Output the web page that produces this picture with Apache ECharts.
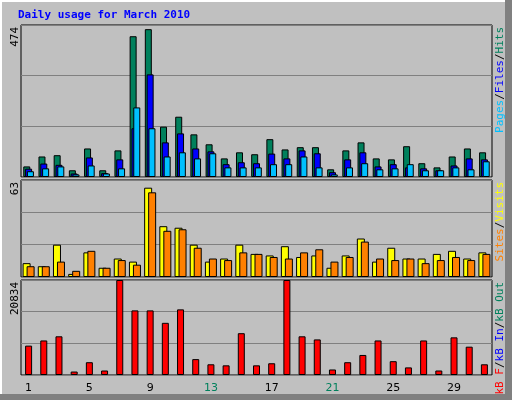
<!DOCTYPE html>
<html><head><meta charset="utf-8">
<script src="https://cdn.jsdelivr.net/npm/echarts@6/dist/echarts.min.js"></script>
<style>html,body{margin:0;padding:0;background:#C0C0C0}#c{width:512px;height:400px}</style>
</head><body><div id="c"></div>
<script>
var days = ['1','2','3','4','5','6','7','8','9','10','11','12','13','14','15','16','17','18','19','20','21','22','23','24','25','26','27','28','29','30','31'];
var weekend = ['6','7','13','14','20','21','27','28'];
var hits  = [33,64,68,21,89,21,83,439,461,157,188,133,102,58,77,71,118,86,93,93,24,83,108,58,55,96,43,30,64,89,77];
var files = [26,42,38,11,61,12,55,152,320,108,136,89,80,40,46,43,73,58,83,74,15,55,77,33,40,30,27,21,36,58,55];
var pages = [18,27,33,8,36,11,27,217,152,64,77,58,74,30,30,30,40,40,64,30,8,30,43,24,27,40,21,21,30,24,49];
var visits = [9,7,21,2,16,6,12,10,58,33,32,21,10,12,21,15,14,20,13,14,6,14,25,10,19,12,12,15,17,12,16];
var sites  = [7,7,10,4,17,6,11,8,55,30,31,19,12,11,16,15,13,12,16,18,10,13,23,12,11,12,9,11,13,11,15];
var kbytes = [6440,7576,8485,758,2803,985,20834,14167,14167,11440,14394,3485,2349,2121,9167,2121,2576,20834,8485,7803,1212,2803,4394,7576,3030,1667,7576,985,8258,6212,2349];
var maxTop = 474, maxMid = 63, maxBot = 20834;

var chart = echarts.init(document.getElementById('c'));
var grids = [
  {left:21, width:471, top:25, height:152},
  {left:21, width:471, top:180, height:97},
  {left:21, width:471, top:280, height:95}
];
function yAx(i, m){return {gridIndex:i, min:0, max:m, interval:m/3, axisLabel:{show:false}, axisTick:{show:false}, axisLine:{show:false}, splitLine:{lineStyle:{color:'#808080', width:1}}};}
function xAx(i, show){return {gridIndex:i, type:'category', data:days, axisTick:{show:false}, axisLine:{show:false},
  axisLabel:{show:show, margin:8, fontFamily:'DejaVu Sans', fontSize:11,
    formatter:function(v){return weekend.indexOf(v)>=0?'{w|'+v+'}':'{d|'+v+'}';},
    rich:{w:{color:'#00805C', fontFamily:'DejaVu Sans', fontSize:11}, d:{color:'#000', fontFamily:'DejaVu Sans', fontSize:11}}}};}
function bar(name, data, xi, color, w, gap){return {type:'bar', name:name, data:data, xAxisIndex:xi, yAxisIndex:xi, barWidth:w, barGap:gap, animation:false,
  itemStyle:{color:color, borderColor:'#000', borderWidth:1}};}
function vtext(x, y, rich, txt){return {type:'text', x:x, y:y, rotation:Math.PI/2, style:{text:txt, rich:rich, fontFamily:'DejaVu Sans Mono', fontSize:11, align:'right', verticalAlign:'middle'}};}
var mono = {fontFamily:'DejaVu Sans Mono', fontSize:11};
chart.setOption({
  backgroundColor:'#C0C0C0',
  grid: grids.map(function(g){return Object.assign({show:true, borderColor:'#000', borderWidth:1, backgroundColor:'#C0C0C0'}, g);}),
  xAxis:[xAx(0,false), xAx(1,false), xAx(2,true)],
  yAxis:[yAx(0,maxTop), yAx(1,maxMid), yAx(2,maxBot)],
  series:[
    bar('Hits', hits, 0, '#00805C', 7, '-74%'),
    bar('Files', files, 0, '#0000FF', 7, '-74%'),
    bar('Pages', pages, 0, '#00C0FF', 7, '-74%'),
    bar('Visits', visits, 1, '#FFFF00', 8, '-50%'),
    bar('Sites', sites, 1, '#FF8000', 8, '-50%'),
    bar('KBytes', kbytes, 2, '#FF0000', 7, '0%')
  ],
  graphic:[
    {type:'rect', shape:{x:0,y:0,width:512,height:2}, style:{fill:'#fff'}},
    {type:'rect', shape:{x:0,y:0,width:2,height:400}, style:{fill:'#fff'}},
    {type:'rect', shape:{x:505,y:0,width:7,height:400}, style:{fill:'#808080'}},
    {type:'rect', shape:{x:0,y:394,width:512,height:6}, style:{fill:'#808080'}},
    {type:'text', x:18, y:10, style:{text:'Daily usage for March 2010', fill:'#0000FF', fontFamily:'DejaVu Sans Mono', fontSize:11, fontWeight:'bold'}},
    {type:'text', x:15, y:27, rotation:Math.PI/2, style:{text:String(maxTop), fill:'#000', fontFamily:'DejaVu Sans Mono', fontSize:11, align:'right', verticalAlign:'middle'}},
    {type:'text', x:15, y:182, rotation:Math.PI/2, style:{text:String(maxMid), fill:'#000', fontFamily:'DejaVu Sans Mono', fontSize:11, align:'right', verticalAlign:'middle'}},
    {type:'text', x:15, y:282, rotation:Math.PI/2, style:{text:String(maxBot), fill:'#000', fontFamily:'DejaVu Sans Mono', fontSize:11, align:'right', verticalAlign:'middle'}},
    {type:'text', x:500, y:27, rotation:Math.PI/2, style:{text:'{a|Pages}{k|/}{b|Files}{k|/}{c|Hits}', rich:{a:Object.assign({fill:'#00C0FF'},mono),b:Object.assign({fill:'#0000FF'},mono),c:Object.assign({fill:'#00805C'},mono),k:Object.assign({fill:'#000'},mono)}, align:'right', verticalAlign:'middle'}},
    {type:'text', x:500, y:182, rotation:Math.PI/2, style:{text:'{a|Sites}{k|/}{b|Visits}', rich:{a:Object.assign({fill:'#FF8000'},mono),b:Object.assign({fill:'#FFFF00'},mono),k:Object.assign({fill:'#000'},mono)}, align:'right', verticalAlign:'middle'}},
    {type:'text', x:500, y:282, rotation:Math.PI/2, style:{text:'{a|kB F}{k|/}{b|kB In}{k|/}{c|kB Out}', rich:{a:Object.assign({fill:'#FF0000'},mono),b:Object.assign({fill:'#0000FF'},mono),c:Object.assign({fill:'#00805C'},mono),k:Object.assign({fill:'#000'},mono)}, align:'right', verticalAlign:'middle'}}
  ]
});
</script></body></html>
